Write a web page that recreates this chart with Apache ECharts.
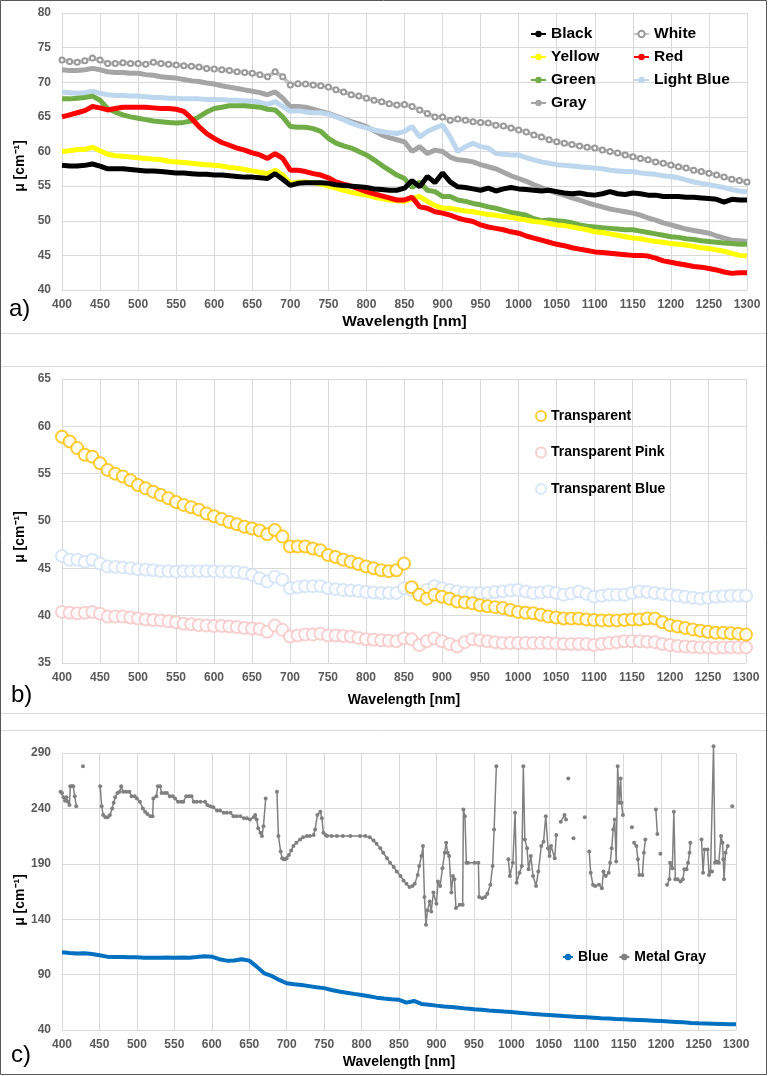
<!DOCTYPE html>
<html>
<head>
<meta charset="utf-8">
<script src="https://cdn.jsdelivr.net/npm/echarts@6/dist/echarts.min.js"></script>
<style>
  html, body { margin: 0; padding: 0; background: #fff; }
  #main { width: 768px; height: 1076px; }
</style>
</head>
<body>
<div id="main"></div>
<script>
// wavelength grid (nm) shared by the smooth spectra, 10 nm step
const wl10 = [];
for (let w = 400; w <= 1300; w += 10) wl10.push(w);

// ---- panel a) ----
const black = [
  58.0,57.9,57.9,58.0,58.2,57.9,57.5,57.5,57.5,57.4,
  57.3,57.2,57.2,57.1,57.0,56.9,56.9,56.8,56.7,56.7,
  56.6,56.6,56.5,56.4,56.3,56.3,56.2,56.1,56.8,56.0,
  55.1,55.4,55.5,55.5,55.5,55.4,55.2,55.1,55.0,54.9,
  54.8,54.6,54.5,54.4,54.4,54.7,55.8,54.9,56.4,55.5,
  56.9,55.6,54.9,54.8,54.6,54.4,54.7,54.3,54.6,54.8,
  54.6,54.5,54.4,54.3,54.4,54.2,54.0,53.9,54.0,53.8,
  53.7,53.9,54.2,53.9,53.8,54.0,53.9,53.7,53.7,53.5,
  53.5,53.5,53.4,53.4,53.3,53.2,53.1,52.7,53.1,53.0,
  53.0];
const white = [
  73.2,73.0,72.9,73.1,73.5,73.2,72.7,72.7,72.8,72.7,
  72.7,72.6,72.9,72.7,72.6,72.5,72.4,72.3,72.2,72.0,
  71.9,71.8,71.7,71.5,71.4,71.3,71.1,70.8,71.5,70.8,
  69.6,69.8,69.75,69.6,69.5,69.3,68.9,68.6,68.2,68.0,
  67.7,67.4,67.2,66.9,66.7,66.8,66.5,66.0,65.5,65.0,
  65.0,64.5,64.7,64.5,64.3,64.2,64.1,63.8,63.7,63.4,
  63.1,62.8,62.4,62.1,61.7,61.4,61.2,61.0,60.8,60.6,
  60.5,60.2,60.0,59.8,59.5,59.25,59.0,58.8,58.5,58.3,
  58.05,57.8,57.6,57.3,57.1,56.85,56.6,56.3,56.0,55.8,
  55.6];
const yellow = [
  60.0,60.1,60.3,60.3,60.6,60.1,59.6,59.4,59.3,59.2,
  59.1,59.0,58.9,58.8,58.6,58.5,58.4,58.3,58.2,58.1,
  58.0,57.9,57.7,57.6,57.4,57.2,57.0,56.8,57.3,56.6,
  55.4,55.6,55.6,55.5,55.3,55.0,54.7,54.4,54.1,53.9,
  53.7,53.4,53.2,53.0,52.9,52.8,53.2,53.5,52.8,52.2,
  51.8,51.8,51.6,51.4,51.3,51.1,50.9,50.8,50.6,50.5,
  50.3,50.1,49.9,49.8,49.6,49.4,49.3,49.1,48.9,48.7,
  48.4,48.3,48.1,47.9,47.7,47.5,47.4,47.2,47.0,46.9,
  46.7,46.6,46.5,46.3,46.1,46.0,45.8,45.6,45.3,45.0,
  44.9];
const red = [
  65.0,65.3,65.6,65.9,66.5,66.3,66.0,66.2,66.4,66.4,
  66.4,66.4,66.3,66.2,66.2,66.1,65.8,64.8,63.6,62.6,
  61.9,61.3,60.9,60.5,60.2,59.8,59.5,59.0,59.7,59.0,
  57.3,57.3,57.1,56.8,56.6,56.2,55.6,55.3,55.0,54.6,
  54.2,53.9,53.6,53.3,53.0,53.0,53.4,52.0,51.8,51.3,
  51.1,50.8,50.4,50.1,49.9,49.4,49.1,48.9,48.7,48.4,
  48.2,47.8,47.5,47.2,46.9,46.6,46.4,46.1,45.9,45.7,
  45.5,45.4,45.3,45.2,45.1,45.0,45.0,44.9,44.6,44.2,
  44.0,43.8,43.6,43.4,43.3,43.1,42.9,42.6,42.4,42.5,
  42.5];
const green = [
  67.6,67.6,67.7,67.8,68.0,67.4,66.2,65.7,65.3,65.0,
  64.8,64.6,64.4,64.3,64.2,64.1,64.2,64.4,65.0,65.7,
  66.2,66.4,66.6,66.6,66.6,66.5,66.4,66.1,66.0,65.0,
  63.6,63.5,63.5,63.3,62.9,61.9,61.2,60.8,60.5,60.0,
  59.5,58.8,58.0,57.3,56.6,56.1,54.8,55.6,54.4,54.2,
  53.5,53.5,53.0,52.8,52.5,52.3,52.0,51.8,51.5,51.2,
  51.0,50.8,50.3,50.0,50.1,50.0,49.9,49.7,49.4,49.2,
  49.1,49.0,48.9,48.8,48.7,48.7,48.5,48.3,48.1,47.9,
  47.7,47.6,47.4,47.3,47.1,47.0,46.9,46.8,46.7,46.6,
  46.6];
const lightBlue = [
  68.6,68.5,68.4,68.5,68.7,68.4,68.2,68.1,68.1,68.0,
  68.0,67.9,67.8,67.8,67.7,67.7,67.6,67.6,67.6,67.5,
  67.5,67.5,67.4,67.4,67.3,67.3,67.1,66.8,67.2,66.5,
  65.8,65.9,65.7,65.6,65.6,65.4,65.0,64.6,64.1,63.7,
  63.4,63.1,62.9,62.7,62.6,62.9,63.6,62.1,62.9,63.4,
  63.8,62.1,60.0,60.7,61.2,60.7,60.5,59.7,59.6,59.5,
  59.5,59.1,58.8,58.5,58.3,58.1,58.0,57.9,57.8,57.7,
  57.6,57.5,57.3,57.2,57.1,57.1,56.9,56.8,56.7,56.5,
  56.4,56.2,55.9,55.6,55.4,55.2,55.0,54.8,54.5,54.3,
  54.2];
const gray = [
  71.8,71.7,71.7,71.8,72.0,71.8,71.5,71.4,71.4,71.3,
  71.3,71.1,71.0,70.8,70.7,70.6,70.4,70.2,70.1,69.9,
  69.75,69.5,69.3,69.1,68.9,68.7,68.5,68.2,68.6,67.7,
  66.5,66.5,66.4,66.1,65.8,65.5,65.1,64.7,64.3,64.0,
  63.6,63.0,62.4,62.0,61.7,61.4,60.0,60.7,59.7,60.2,
  60.0,59.2,58.8,58.7,58.5,58.1,57.8,57.5,57.0,56.5,
  56.1,55.7,55.2,54.8,54.4,54.0,53.7,53.3,53.0,52.6,
  52.3,52.0,51.7,51.5,51.3,51.1,50.8,50.4,50.1,49.7,
  49.4,49.1,48.8,48.6,48.4,48.2,47.8,47.5,47.2,47.1,
  47.0];

// ---- panel b) ----
const transparent = [
  58.9,58.4,57.7,57.0,56.8,56.1,55.4,55.0,54.7,54.3,
  53.8,53.45,53.1,52.75,52.4,52.0,51.7,51.45,51.2,50.8,
  50.5,50.2,49.9,49.65,49.4,49.2,49.0,48.6,49.05,48.35,
  47.3,47.3,47.3,47.1,46.9,46.4,46.2,45.9,45.7,45.45,
  45.2,45.0,44.8,44.7,44.8,45.5,43.0,42.2,41.8,42.2,
  42.0,41.8,41.5,41.4,41.3,41.1,41.0,40.9,40.8,40.6,
  40.4,40.3,40.25,40.1,39.9,39.8,39.7,39.7,39.7,39.6,
  39.55,39.5,39.5,39.5,39.55,39.6,39.6,39.7,39.7,39.3,
  39.0,38.85,38.7,38.55,38.4,38.3,38.2,38.2,38.15,38.1,
  38.0];
const transparentPink = [
  40.4,40.3,40.25,40.3,40.4,40.2,39.9,39.9,39.9,39.8,
  39.7,39.6,39.55,39.5,39.4,39.3,39.15,39.1,39.0,38.95,
  38.9,38.9,38.85,38.8,38.7,38.65,38.6,38.3,38.95,38.5,
  37.8,37.9,38.0,38.0,38.1,37.9,37.9,37.85,37.8,37.65,
  37.5,37.45,37.4,37.35,37.3,37.6,37.5,36.9,37.3,37.6,
  37.3,37.0,36.75,37.2,37.5,37.4,37.3,37.2,37.1,37.1,
  37.1,37.1,37.1,37.1,37.1,37.05,37.0,37.0,37.0,37.0,
  36.9,37.0,37.1,37.2,37.3,37.3,37.3,37.25,37.2,37.0,
  36.9,36.8,36.75,36.7,36.65,36.65,36.6,36.65,36.65,36.65,
  36.65];
const transparentBlue = [
  46.3,45.9,45.9,45.7,45.9,45.5,45.2,45.15,45.1,45.0,
  44.9,44.85,44.8,44.7,44.7,44.65,44.7,44.7,44.7,44.7,
  44.7,44.65,44.65,44.6,44.5,44.3,43.95,43.6,44.1,43.8,
  42.9,43.0,43.1,43.1,43.1,42.9,42.8,42.7,42.65,42.6,
  42.5,42.45,42.4,42.4,42.4,42.9,42.7,42.2,42.7,43.1,
  42.9,42.7,42.55,42.45,42.4,42.4,42.4,42.5,42.55,42.65,
  42.7,42.55,42.4,42.45,42.55,42.4,42.2,42.35,42.55,42.3,
  42.0,42.1,42.2,42.2,42.2,42.4,42.55,42.5,42.4,42.3,
  42.2,42.1,42.0,41.9,41.8,41.9,42.0,42.05,42.1,42.1,
  42.1];

// ---- panel c) ----
const blue = [
  110.1,109.5,109.0,109.3,108.6,107.5,106.2,105.9,105.8,105.7,
  105.6,105.3,105.2,105.2,105.4,105.3,105.4,105.2,105.8,106.5,
  106.2,103.9,102.6,102.7,103.9,102.6,97.2,91.2,88.8,85.2,
  82.2,81.2,80.6,79.6,78.6,77.8,76.1,74.8,73.7,72.6,
  71.6,70.4,69.2,68.4,67.7,67.2,64.7,66.2,63.5,62.8,
  62.0,61.3,60.7,60.0,59.3,58.7,58.2,57.6,57.1,56.6,
  56.2,55.6,55.0,54.4,53.9,53.5,53.1,52.6,52.2,51.8,
  51.4,51.0,50.6,50.3,49.9,49.6,49.3,49.0,48.7,48.4,
  48.1,47.7,47.3,46.9,46.4,46.0,45.8,45.6,45.4,45.2,
  45.1];
// metal gray: [wavelength, mu]; null marks a break in the trace
const metalGray = [
  [398,255],[400,254],[402,250],[404,247],[406,250],[408,246],[410,243],[411,260],[413,260],[415,260],[417,251],[419,242],
  [424,null],[428,278],[440,null],
  [451,260],[453,242],[455,234],[458,232],[461,232],[464,234],[467,240],[469,245],[471,250],[474,254],[477,255],[479,260],
  [482,255],[486,255],[490,255],[493,251],[497,251],[500,249],[504,246],[508,240],[511,237],[514,235],[518,233],[521,233],
  [522,249],[526,251],[528,260],[531,260],[533,254],[537,254],[540,254],[544,251],[548,251],[551,249],[555,246],[559,246],
  [562,246],[566,251],[570,251],[573,251],[576,246],[580,246],[585,246],[591,246],[594,243],[598,242],[602,241],[607,238],
  [611,238],[616,236],[620,236],[625,236],[629,233],[633,233],[638,233],[643,231],[647,231],[651,230],[656,232],[658,234],
  [660,230],[662,222],[665,218],[667,215],[669,224],[672,249],
  [680,null],
  [687,255],[689,215],[692,201],[694,195],[696,194],[698,194],[700,195],[703,198],[706,202],[709,206],[713,209],[718,212],
  [722,214],[727,215],[731,215],[736,216],[738,221],[741,234],[745,237],[747,231],[749,218],[752,216],[754,215],[760,215],
  [767,215],[775,215],[785,215],[798,215],[805,215],[811,214],[816,211],[820,208],[825,204],[829,200],[834,195],[838,191],
  [843,187],[847,183],[852,179],[856,175],[860,172],[864,169],[868,170],[871,172],[875,180],[877,188],[880,197],[882,206],
  [884,160],[886,135],[888,148],[891,156],[893,147],[896,164],[900,154],[902,174],[905,170],[908,186],[911,200],[913,209],
  [915,200],[917,197],[920,164],[922,179],[924,176],[926,150],[931,153],[935,153],[936,239],[938,233],[940,191],[942,191],
  [951,191],[956,191],[957,160],[961,159],[965,160],[968,163],[972,171],[975,188],[977,221],[980,278],
  [988,null],
  [996,194],[998,179],[1002,191],[1005,236],[1007,173],[1011,182],[1014,188],[1016,278],[1018,212],[1021,204],[1023,185],
  [1026,197],[1029,179],[1033,170],[1036,183],[1040,206],[1043,210],[1046,233],[1049,204],[1051,197],[1053,206],[1058,195],
  [1060,216],
  [1063,null],[1066,228],[1071,234],[1073,230],[1075,null],[1076,267],[1080,null],[1083,213],[1090,null],[1098,232],[1101,null],
  [1104,201],[1106,182],[1109,171],[1112,170],[1117,171],[1121,168],[1123,183],[1126,179],[1130,182],[1132,191],[1134,204],
  [1136,221],[1138,230],[1140,192],[1142,278],[1144,245],[1146,267],[1147,245],[1149,234],
  [1155,null],[1161,223],[1162,null],
  [1164,209],[1167,206],[1169,194],[1171,180],[1175,180],[1177,200],[1179,212],
  [1186,null],[1193,239],[1195,217],[1197,null],[1199,199],[1203,null],
  [1208,171],[1211,176],[1212,191],[1215,186],[1217,237],[1219,176],[1222,176],[1226,174],[1229,176],[1231,185],[1234,185],
  [1236,191],[1238,200],[1239,209],
  [1246,null],
  [1254,212],[1256,182],[1258,203],[1262,203],[1264,180],[1266,183],[1268,183],[1270,296],[1272,191],[1274,192],[1277,191],
  [1280,215],[1282,209],[1283,194],[1284,176],[1286,200],[1289,206],
  [1292,null],[1295,242]
];

const FONT = "'Liberation Sans', Arial, sans-serif";

function pairs(vals) {
  return vals.map((v, i) => [wl10[i], v]);
}

function xAxisFor(grid, nameSize, nameGap) {
  return {
    gridIndex: grid,
    type: "value",
    min: 400,
    max: 1300,
    interval: 50,
    name: "Wavelength [nm]",
    nameLocation: "middle",
    nameGap: nameGap,
    nameTextStyle: { color: "#000", fontWeight: "bold", fontSize: nameSize, fontFamily: FONT },
    axisLine: { show: false },
    axisTick: { show: false },
    axisLabel: {
      color: "#595959", fontWeight: "bold", fontSize: 12, fontFamily: FONT, margin: 9,
      formatter: (v) => String(v),
    },
    splitLine: { show: true, lineStyle: { color: "#d9d9d9", width: 1 } },
  };
}

function yAxisFor(grid, min, max, interval) {
  return {
    gridIndex: grid,
    type: "value",
    min: min,
    max: max,
    interval: interval,
    axisLine: { show: false },
    axisTick: { show: false },
    axisLabel: { color: "#595959", fontWeight: "bold", fontSize: 12, fontFamily: FONT, margin: 11 },
    splitLine: { show: true, lineStyle: { color: "#d9d9d9", width: 1 } },
  };
}

// thick line for panel a
function lineA(name, vals, color) {
  return {
    name: name,
    type: "line",
    xAxisIndex: 0,
    yAxisIndex: 0,
    data: pairs(vals),
    symbol: "circle",
    symbolSize: 5,
    showSymbol: false,
    lineStyle: { color: color, width: 5 },
    itemStyle: { color: color },
  };
}

// hollow rings for panel b
function ringsB(name, vals, color) {
  return {
    name: name,
    type: "scatter",
    xAxisIndex: 1,
    yAxisIndex: 1,
    data: pairs(vals),
    symbol: "emptyCircle",
    symbolSize: 12,
    itemStyle: { color: color, borderColor: color, borderWidth: 1.5 },
  };
}

const legendText = (size) => ({ color: "#000", fontWeight: "bold", fontSize: size, fontFamily: FONT, lineHeight: 16 });

const chart = echarts.init(document.getElementById("main"));
chart.setOption({
  animation: false,
  backgroundColor: "#fff",
  grid: [
    { left: 62, top: 13, width: 685, height: 277 },
    { left: 62, top: 379, width: 684, height: 284 },
    { left: 62, top: 753, width: 674, height: 277 },
  ],
  xAxis: [xAxisFor(0, 15.5, 24), xAxisFor(1, 14, 30), xAxisFor(2, 14, 25)],
  yAxis: [yAxisFor(0, 40, 80, 5), yAxisFor(1, 35, 65, 5), yAxisFor(2, 40, 290, 50)],
  legend: [
    {
      orient: "vertical", left: 525, top: 21, itemWidth: 15, itemHeight: 8, itemGap: 7,
      data: ["Black", "Yellow", "Green", "Gray"],
      textStyle: legendText(15.5), lineStyle: { width: 2 },
    },
    {
      orient: "vertical", left: 628, top: 21, itemWidth: 15, itemHeight: 8, itemGap: 7,
      data: ["White", "Red", "Light Blue"],
      textStyle: legendText(15.5), lineStyle: { width: 2 },
    },
    {
      orient: "vertical", left: 530, top: 403, itemWidth: 10, itemHeight: 10, itemGap: 20.5,
      data: ["Transparent", "Transparent Pink", "Transparent Blue"],
      textStyle: legendText(14),
    },
    {
      orient: "horizontal", left: 557, top: 944, itemWidth: 10, itemHeight: 8, itemGap: 10,
      data: ["Blue", "Metal Gray"],
      textStyle: legendText(14), lineStyle: { width: 2 },
    },
  ],
  graphic: [
    { type: "rect", shape: { x: 0.5, y: 0.5, width: 766, height: 1074 }, style: { fill: "none", stroke: "#595959", lineWidth: 1 } },
    { type: "line", shape: { x1: 1, y1: 333.5, x2: 766, y2: 333.5 }, style: { stroke: "#d9d9d9", lineWidth: 1 } },
    { type: "line", shape: { x1: 1, y1: 366.5, x2: 766, y2: 366.5 }, style: { stroke: "#d9d9d9", lineWidth: 1 } },
    { type: "line", shape: { x1: 1, y1: 713.5, x2: 766, y2: 713.5 }, style: { stroke: "#d9d9d9", lineWidth: 1 } },
    { type: "line", shape: { x1: 1, y1: 730.5, x2: 766, y2: 730.5 }, style: { stroke: "#d9d9d9", lineWidth: 1 } },
    { type: "text", x: 9, y: 309, style: { text: "a)", font: "24px " + FONT, fill: "#000", textVerticalAlign: "middle" } },
    { type: "text", x: 11, y: 695, style: { text: "b)", font: "24px " + FONT, fill: "#000", textVerticalAlign: "middle" } },
    { type: "text", x: 11, y: 1055, style: { text: "c)", font: "24px " + FONT, fill: "#000", textVerticalAlign: "middle" } },
    { type: "text", x: 20, y: 166, rotation: Math.PI / 2, style: { text: "μ [cm⁻¹]", font: "bold 14px " + FONT, fill: "#000", textAlign: "center", textVerticalAlign: "middle" } },
    { type: "text", x: 20, y: 537, rotation: Math.PI / 2, style: { text: "μ [cm⁻¹]", font: "bold 14px " + FONT, fill: "#000", textAlign: "center", textVerticalAlign: "middle" } },
    { type: "text", x: 20, y: 900, rotation: Math.PI / 2, style: { text: "μ [cm⁻¹]", font: "bold 14px " + FONT, fill: "#000", textAlign: "center", textVerticalAlign: "middle" } },
  ],
  series: [
    // panel a
    {
      name: "White",
      type: "line",
      xAxisIndex: 0,
      yAxisIndex: 0,
      data: pairs(white),
      symbol: "emptyCircle",
      symbolSize: 5,
      showSymbol: true,
      lineStyle: { color: "#c4c4c4", width: 4 },
      itemStyle: { color: "#999999", borderWidth: 1 },
    },
    lineA("Gray", gray, "#a5a5a5"),
    lineA("Light Blue", lightBlue, "#bdd7ee"),
    lineA("Green", green, "#70ad47"),
    lineA("Yellow", yellow, "#ffff00"),
    lineA("Red", red, "#ff0000"),
    lineA("Black", black, "#000000"),
    // panel b
    ringsB("Transparent Pink", transparentPink, "#f6c4c6"),
    ringsB("Transparent Blue", transparentBlue, "#cfe1f4"),
    ringsB("Transparent", transparent, "#ffc000"),
    // panel c
    {
      name: "Blue",
      type: "line",
      xAxisIndex: 2,
      yAxisIndex: 2,
      data: pairs(blue),
      symbol: "circle",
      symbolSize: 5,
      showSymbol: false,
      lineStyle: { color: "#0070c0", width: 4 },
      itemStyle: { color: "#0070c0" },
    },
    {
      name: "Metal Gray",
      type: "line",
      xAxisIndex: 2,
      yAxisIndex: 2,
      data: metalGray.map((p) => [p[0], p[1] === null ? "-" : p[1]]),
      connectNulls: false,
      clip: false,
      symbol: "circle",
      symbolSize: 4,
      showSymbol: true,
      lineStyle: { color: "#808080", width: 1.5 },
      itemStyle: { color: "#808080" },
    },
  ],
});
</script>
</body>
</html>
